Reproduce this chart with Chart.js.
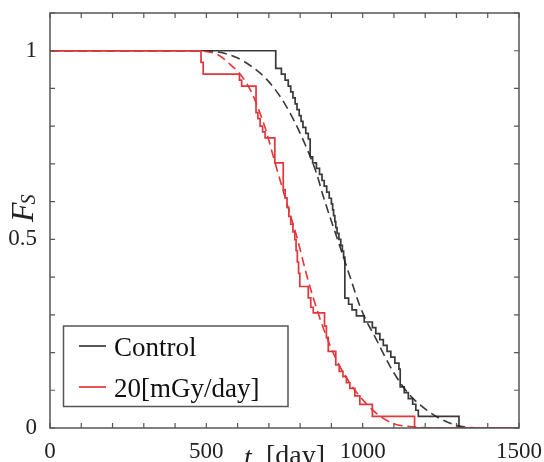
<!DOCTYPE html>
<html>
<head>
<meta charset="utf-8">
<script src="https://cdn.jsdelivr.net/npm/chart.js@4.4.0/dist/chart.umd.min.js"></script>
<style>
  html, body { margin: 0; padding: 0; background: #fff; overflow: hidden; }
  canvas { display: block; }
</style>
</head>
<body>
<canvas id="chart" width="544" height="462"></canvas>
<script>
// survival steps: t [day] and F_S after each step
const controlT = [0, 722, 740, 752, 762, 770, 777, 784, 790, 797, 803, 809, 818, 826, 832, 840, 852, 862, 870, 877, 885, 893, 900, 904, 907, 911, 914, 918, 924, 930, 935, 939, 943, 955, 966, 980, 1005, 1031, 1042, 1055, 1066, 1078, 1090, 1103, 1116, 1120, 1133, 1146, 1160, 1170, 1178, 1308, 1500];
const controlF = [1, 0.953, 0.938, 0.922, 0.906, 0.891, 0.875, 0.859, 0.844, 0.828, 0.813, 0.797, 0.781, 0.766, 0.719, 0.703, 0.688, 0.672, 0.656, 0.641, 0.625, 0.609, 0.594, 0.578, 0.563, 0.547, 0.531, 0.516, 0.5, 0.484, 0.469, 0.453, 0.344, 0.328, 0.313, 0.297, 0.281, 0.266, 0.25, 0.234, 0.219, 0.203, 0.188, 0.172, 0.156, 0.109, 0.094, 0.078, 0.063, 0.047, 0.031, 0, 0];

const doseT = [0, 483, 490, 606, 613, 659, 665, 672, 680, 688, 719, 746, 752, 758, 764, 770, 777, 783, 787, 791, 795, 799, 826, 834, 842, 878, 884, 890, 914, 925, 937, 948, 959, 975, 991, 1031, 1166, 1500];
const doseF = [1, 0.969, 0.938, 0.922, 0.906, 0.836, 0.82, 0.8, 0.785, 0.769, 0.703, 0.632, 0.61, 0.585, 0.561, 0.54, 0.52, 0.499, 0.47, 0.44, 0.41, 0.375, 0.345, 0.32, 0.305, 0.27, 0.24, 0.203, 0.167, 0.15, 0.136, 0.12, 0.105, 0.085, 0.0625, 0.031, 0, 0];

// fitted curves (dashed), read at a few points
const controlFitT = [0, 450, 533, 597, 650, 693, 735, 767, 799, 852, 874, 927, 959, 996, 1044, 1097, 1150, 1204, 1257, 1310, 1400, 1500];
const controlFitF = [1, 1, 0.997, 0.982, 0.955, 0.924, 0.88, 0.836, 0.783, 0.676, 0.614, 0.482, 0.402, 0.313, 0.234, 0.15, 0.088, 0.048, 0.021, 0.005, 0, 0];
const doseFitT = [0, 450, 533, 576, 613, 645, 671, 693, 714, 757, 789, 821, 842, 874, 916, 959, 1001, 1044, 1097, 1166, 1250, 1500];
const doseFitF = [1, 1, 0.991, 0.964, 0.933, 0.889, 0.836, 0.783, 0.72, 0.597, 0.508, 0.405, 0.345, 0.265, 0.181, 0.119, 0.074, 0.039, 0.012, 0.003, 0, 0];

const xTickLabels = [0, 500, 1000, 1500];
const yTickLabels = [0, 0.5, 1];

const black = "rgba(35,35,35,0.9)";
const red = "#e2363a";
const serif = "'Liberation Serif', 'Times New Roman', serif";

function pts(xs, ys) {
  return xs.map((x, i) => ({ x: x, y: ys[i] }));
}

function isLabel(list, v) {
  return list.some(l => Math.abs(l - v) < 1e-6);
}

const decorations = {
  id: "decorations",
  afterDraw(chart) {
    const { ctx, chartArea: a, scales } = chart;
    ctx.save();

    // box round the plot
    ctx.strokeStyle = "#555";
    ctx.lineWidth = 1.5;
    ctx.strokeRect(a.left, a.top, a.right - a.left, a.bottom - a.top);

    // inward ticks on all four sides
    ctx.lineWidth = 1.2;
    ctx.beginPath();
    scales.x.ticks.forEach(t => {
      const px = scales.x.getPixelForValue(t.value);
      ctx.moveTo(px, a.bottom); ctx.lineTo(px, a.bottom - 5);
      ctx.moveTo(px, a.top); ctx.lineTo(px, a.top + 5);
    });
    scales.y.ticks.forEach(t => {
      const py = scales.y.getPixelForValue(t.value);
      ctx.moveTo(a.left, py); ctx.lineTo(a.left + 5, py);
      ctx.moveTo(a.right, py); ctx.lineTo(a.right - 5, py);
    });
    ctx.stroke();

    // legend box
    const lx = 63.5, ly = 326, lw = 224.5, lh = 80.5;
    ctx.fillStyle = "#fff";
    ctx.fillRect(lx, ly, lw, lh);
    ctx.strokeStyle = "#555";
    ctx.lineWidth = 1.5;
    ctx.strokeRect(lx, ly, lw, lh);
    const entries = [chart.data.datasets[2], chart.data.datasets[0]];
    const rows = [347, 388];
    ctx.font = "27px " + serif;
    ctx.textBaseline = "middle";
    ctx.textAlign = "left";
    entries.forEach((ds, i) => {
      ctx.strokeStyle = ds.borderColor;
      ctx.lineWidth = 1.7;
      ctx.beginPath();
      ctx.moveTo(79, rows[i] - 1);
      ctx.lineTo(106, rows[i] - 1);
      ctx.stroke();
      ctx.fillStyle = "#111";
      ctx.fillText(ds.label, 114, rows[i] + 2);
    });

    // y title: F_S
    ctx.fillStyle = "#222";
    ctx.translate(33, 222);
    ctx.rotate(-Math.PI / 2);
    ctx.textBaseline = "alphabetic";
    ctx.font = "italic 32px " + serif;
    ctx.fillText("F", 0, 0);
    const fw = ctx.measureText("F").width;
    ctx.font = "italic 20px " + serif;
    ctx.fillText("S", fw - 2, 2);
    ctx.setTransform(1, 0, 0, 1, 0, 0);

    // x title: t [day] (cut by the bottom edge)
    ctx.font = "italic 28px " + serif;
    ctx.fillText("t", 244, 466);
    ctx.font = "28px " + serif;
    ctx.fillText("[day]", 266, 464);

    ctx.restore();
  }
};

new Chart(document.getElementById("chart"), {
  type: "line",
  data: {
    datasets: [
      {
        label: "20[mGy/day]",
        data: pts(doseT, doseF),
        borderColor: red,
        borderWidth: 1.7,
        stepped: true,
        pointRadius: 0,
      },
      {
        label: "20[mGy/day] fit",
        data: pts(doseFitT, doseFitF),
        borderColor: red,
        borderWidth: 1.6,
        borderDash: [9, 5],
        cubicInterpolationMode: "monotone",
        pointRadius: 0,
      },
      {
        label: "Control",
        data: pts(controlT, controlF),
        borderColor: black,
        borderWidth: 1.7,
        stepped: true,
        pointRadius: 0,
      },
      {
        label: "Control fit",
        data: pts(controlFitT, controlFitF),
        borderColor: black,
        borderWidth: 1.6,
        borderDash: [9, 5],
        cubicInterpolationMode: "monotone",
        pointRadius: 0,
      },
    ],
  },
  options: {
    responsive: false,
    animation: false,
    layout: { padding: { top: 13, right: 25, bottom: 0, left: 0 } },
    plugins: {
      legend: { display: false },
      tooltip: { enabled: false },
    },
    scales: {
      x: {
        type: "linear",
        min: 0,
        max: 1500,
        grid: { display: false },
        border: { display: false },
        afterFit: (scale) => {
          scale.height = 34;
          scale.paddingLeft = 0;
          scale.paddingRight = 0;
        },
        ticks: {
          stepSize: 100,
          autoSkip: false,
          maxRotation: 0,
          padding: 2,
          color: "#222",
          font: { family: serif, size: 23 },
          callback: (v) => (isLabel(xTickLabels, v) ? String(v) : ""),
        },
      },
      y: {
        min: 0,
        max: 1.1,
        grid: { display: false },
        border: { display: false },
        afterFit: (scale) => {
          scale.width = 50;
          scale.paddingTop = 0;
          scale.paddingBottom = 0;
        },
        ticks: {
          stepSize: 0.1,
          autoSkip: false,
          padding: 5,
          color: "#222",
          font: { family: serif, size: 23 },
          callback: (v) => (isLabel(yTickLabels, v) ? String(Math.round(v * 10) / 10) : ""),
        },
      },
    },
  },
  plugins: [decorations],
});
</script>
</body>
</html>
